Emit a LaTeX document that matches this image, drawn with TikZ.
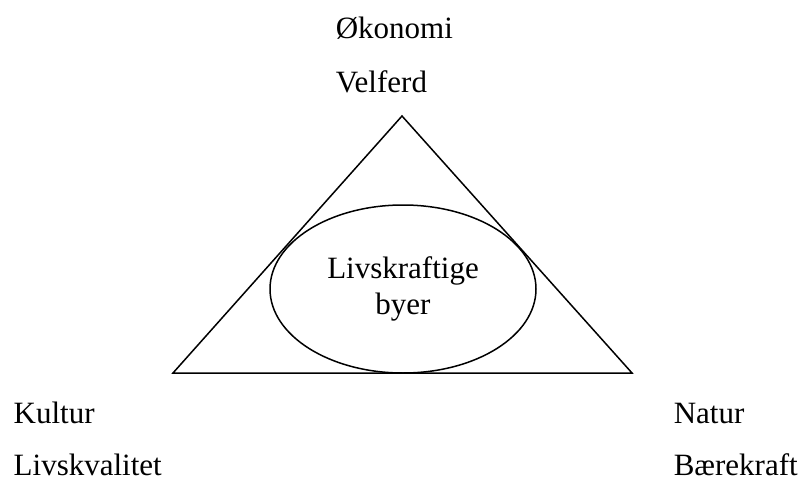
\documentclass[tikz,border=0pt]{standalone}
\usepackage{fontspec}
\setmainfont{Liberation Serif}
\usetikzlibrary{shapes.geometric}
\begin{document}
\begin{tikzpicture}[x=0.5pt,y=-0.5pt,line width=0.75pt,
    txt/.style={inner sep=0pt,font=\fontsize{15.5}{18}\selectfont},
    lbl/.style={txt,anchor=base west}]
      \useasboundingbox (0,0) rectangle (803,481);
      \coordinate (T) at (402,116);
      \coordinate (L) at (173,373);
      \coordinate (R) at (632,373);
      \draw (T) -- (R) -- (L) -- cycle;
      \node[txt,draw,ellipse,align=center,minimum width=133pt,minimum height=84pt] (by) at (403,289) {Livskraftige\\byer};
      \node[lbl] (oko) at (335,39) {Økonomi};
      \node[lbl] (vel) at (335,93) {Velferd};
      \node[lbl] (kul) at (13,423) {Kultur};
      \node[lbl] (liv) at (13,475) {Livskvalitet};
      \node[lbl] (nat) at (673,423) {Natur};
      \node[lbl] (bae) at (673,475) {Bærekraft};
    \end{tikzpicture}
\end{document}
